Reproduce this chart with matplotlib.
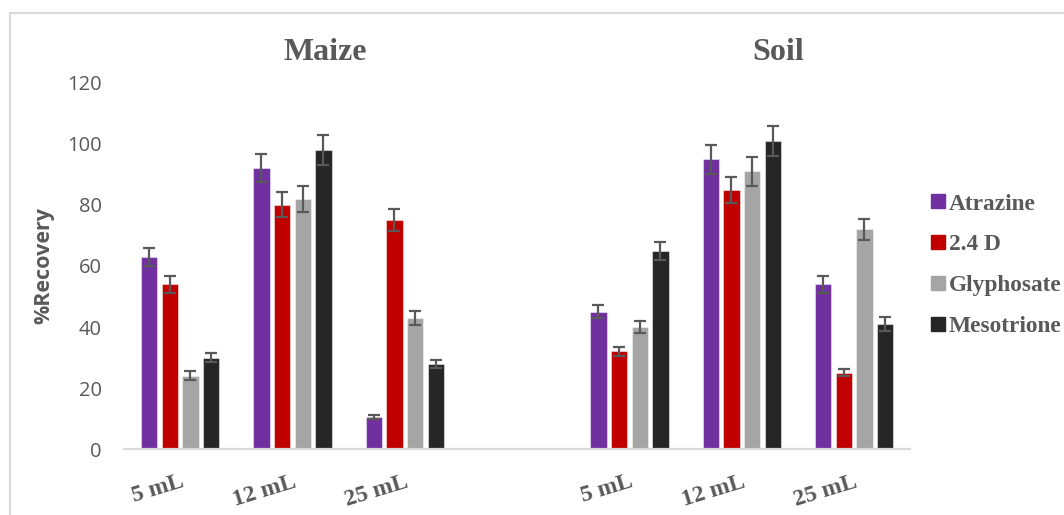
import numpy as np
import matplotlib
matplotlib.use("Agg")
import matplotlib.pyplot as plt
from matplotlib.lines import Line2D
from matplotlib.patches import Rectangle

# x categories: three extraction volumes for each matrix
VOLUMES = ["5 mL", "12 mL", "25 mL", "5 mL", "12 mL", "25 mL"]
SITES = ["Maize", "Soil"]
HERBICIDES = ["Atrazine", "2.4 D", "Glyphosate", "Mesotrione"]

# % recovery (maize 5/12/25 mL, then soil 5/12/25 mL)
atrazine   = [63, 92, 10.5, 45, 95, 54]
d24        = [54, 80, 75, 32, 85, 25]
glyphosate = [24, 82, 43, 40, 91, 72]
mesotrione = [30, 98, 28, 65, 101, 41]

atrazine_err   = [3.0, 4.6, 0.8, 2.2, 4.8, 2.7]
d24_err        = [2.7, 4.1, 3.6, 1.6, 4.3, 1.2]
glyphosate_err = [1.5, 4.2, 2.3, 2.0, 4.7, 3.5]
mesotrione_err = [1.6, 4.8, 1.3, 3.0, 5.0, 2.2]

COLORS = ["#7030A0", "#C00000", "#A5A5A5", "#262626"]
GREY = "#595959"

values = [atrazine, d24, glyphosate, mesotrione]
errors = [atrazine_err, d24_err, glyphosate_err, mesotrione_err]

# leave one empty slot between the two matrices
xpos = np.array([g + (g >= 3) for g in range(len(VOLUMES))], dtype=float)

fig = plt.figure(figsize=(10.64, 5.15), dpi=100)
ax = fig.add_axes([0.1165, 0.128, 0.739, 0.711])

width = 0.145
step = 0.184
for i, (name, vals, errs) in enumerate(zip(HERBICIDES, values, errors)):
    ax.bar(xpos + (i - 1.5) * step, vals, width,
           yerr=errs, capsize=4.5, color=COLORS[i],
           edgecolor=(1, 1, 1, 0.45), linewidth=0.8,
           error_kw=dict(elinewidth=1.6, capthick=1.6, ecolor=GREY),
           zorder=2)

ax.set_xlim(-0.5, 6.5)
ax.set_ylim(0, 120)
ax.set_yticks(np.arange(0, 121, 20))
ax.tick_params(axis="y", length=0, pad=16, labelsize=14.5, labelcolor=GREY)
for lab in ax.get_yticklabels():
    lab.set_family("Open Sans")

ax.set_xticks(xpos)
ax.set_xticklabels(VOLUMES, rotation=17, ha="right", rotation_mode="anchor",
                   family="Liberation Serif", fontweight="bold",
                   fontsize=17, color=GREY)
ax.tick_params(axis="x", length=0, pad=16)

for side in ["top", "right", "left"]:
    ax.spines[side].set_visible(False)
ax.spines["bottom"].set_color("#D9D9D9")
ax.spines["bottom"].set_linewidth(1.6)

ax.set_ylabel("%Recovery", family="Open Sans", fontweight="bold",
              fontsize=15.5, color=GREY, labelpad=9)

# panel titles
for site, fx in zip(SITES, [0.306, 0.731]):
    fig.text(fx, 0.899, site, ha="center", va="center",
             family="Liberation Serif", fontweight="bold",
             fontsize=23, color=GREY)

handles = [Line2D([], [], marker="s", linestyle="none", markersize=10,
                  markerfacecolor=c, markeredgecolor=c) for c in COLORS]
leg = fig.legend(handles, HERBICIDES, loc="upper left",
                 bbox_to_anchor=(0.866, 0.643), frameon=False,
                 handlelength=0.6, handletextpad=0.18, labelspacing=0.84,
                 prop=dict(family="Liberation Serif", weight="bold", size=16.8),
                 borderaxespad=0)
for t in leg.get_texts():
    t.set_color(GREY)

# light chart-area border
fig.patches.append(Rectangle((0.0094, -0.1), 1.2, 1.1 - 0.025,
                             transform=fig.transFigure, fill=False,
                             edgecolor="#D9D9D9", linewidth=1.5))

fig.savefig("out.png", dpi=100)
